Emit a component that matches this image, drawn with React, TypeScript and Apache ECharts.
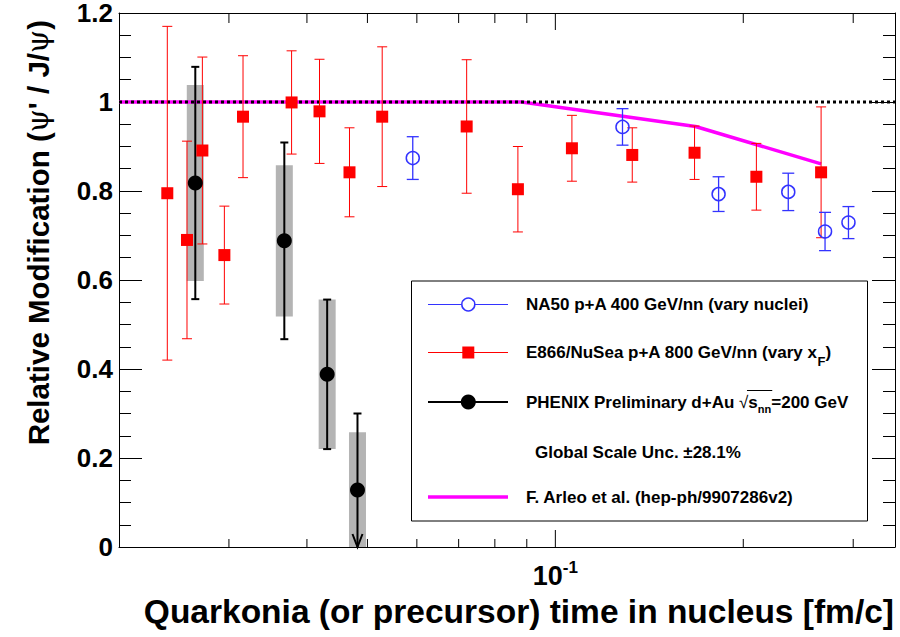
import React, { useEffect, useRef } from 'react';
import * as echarts from 'echarts';

const FONT = '"Liberation Sans", Arial, Helvetica, sans-serif';

// axis ranges and ticks
const xMin = 0.02;
const xMax = 0.35;
const xMinorTicks = [0.03, 0.04, 0.05, 0.06, 0.07, 0.08, 0.09, 0.2, 0.3];
const xMajorTicks = [0.1];
const xMajorLabels = ['10'];
const xMajorExps = ['-1'];
const yMin = 0;
const yMax = 1.2;
const yStep = 0.2;

// NA50 p+A 400 GeV/nn
const na50T = [0.0591, 0.1281, 0.1826, 0.2361, 0.2704, 0.2948];
const na50V = [0.874, 0.944, 0.793, 0.798, 0.709, 0.729];
const na50E = [0.048, 0.041, 0.039, 0.042, 0.043, 0.036];

// E866/NuSea p+A 800 GeV/nn
const e866T = [0.0239, 0.0257, 0.0272, 0.0295, 0.0316, 0.0378, 0.0419, 0.0468, 0.0528, 0.0721, 0.0871, 0.1063, 0.1328, 0.1671, 0.2099, 0.2665];
const e866V = [0.795, 0.69, 0.891, 0.656, 0.967, 0.999, 0.979, 0.842, 0.967, 0.945, 0.804, 0.896, 0.881, 0.886, 0.832, 0.842];
const e866E = [0.375, 0.222, 0.21, 0.11, 0.137, 0.116, 0.117, 0.1, 0.157, 0.15, 0.096, 0.074, 0.061, 0.06, 0.075, 0.147];

// PHENIX preliminary d+Au
const phxT = [0.0265, 0.0368, 0.0431, 0.0482];
const phxV = [0.818, 0.688, 0.388, 0.128];
const phxStat = [0.261, 0.221, 0.168, 0.172];
const phxSys = [0.22, 0.17, 0.168, 0.13];

// F. Arleo et al. curve
const arleoT = [0.02, 0.0883, 0.1677, 0.2665];
const arleoV = [1.0, 1.0, 0.945, 0.861];

// reference line
const refLevel = 1.0;

function measure(text: string, font: string): number {
  try {
    const c = document.createElement('canvas').getContext('2d');
    if (!c) return text.length * 9;
    c.font = font;
    return c.measureText(text).width;
  } catch (e) {
    return text.length * 9;
  }
}

function errRender(color: string, lw: number, capHalf: number) {
  return (params: any, api: any) => {
    const t = api.value(0);
    const v = api.value(1);
    const e = api.value(2);
    const lo = v - e;
    const hi = v + e;
    const top = api.coord([t, hi]);
    const bot = api.coord([t, Math.max(lo, 0)]);
    const st = { stroke: color, lineWidth: lw, fill: 'none' };
    const children: any[] = [
      { type: 'line', shape: { x1: top[0], y1: top[1], x2: bot[0], y2: bot[1] }, style: st },
      { type: 'line', shape: { x1: top[0] - capHalf, y1: top[1], x2: top[0] + capHalf, y2: top[1] }, style: st },
    ];
    if (lo >= 0) {
      children.push({ type: 'line', shape: { x1: bot[0] - capHalf, y1: bot[1], x2: bot[0] + capHalf, y2: bot[1] }, style: st });
    } else {
      children.push({
        type: 'polyline',
        shape: { points: [[bot[0] - 5, bot[1] - 13], [bot[0], bot[1]], [bot[0] + 5, bot[1] - 13]] },
        style: st,
      });
    }
    return { type: 'group', children };
  };
}

export default function App() {
  const ref = useRef<HTMLDivElement>(null);
  useEffect(() => {
    const chart = echarts.init(ref.current!, null, { renderer: 'svg' });

    const yAxisBase: any = {
      type: 'value',
      min: yMin,
      max: yMax,
      interval: yStep,
      axisLine: { show: true, onZero: false, lineStyle: { color: '#000', width: 1 } },
      axisTick: { show: true, inside: true, length: 23, lineStyle: { color: '#000', width: 1 } },
      minorTick: { show: true, splitNumber: 4, length: 12, lineStyle: { color: '#000', width: 1 } },
      splitLine: { show: false },
    };

    const tickData = [
      ...xMinorTicks.map((t) => [t, 0, 0]),
      ...xMajorTicks.map((t) => [t, 0, 1]),
    ];

    // overline of the square-root sign in the PHENIX legend entry
    const legX = 526;
    const phPrefix = measure('PHENIX Preliminary d+Au ', `bold 17px ${FONT}`);
    const rootW = measure('√', `17px ${FONT}`);
    const sW = measure('s', `bold 17px ${FONT}`);
    const nnW = measure('nn', `bold 11px ${FONT}`);
    const olX1 = legX + phPrefix + rootW * 0.85;
    const olX2 = legX + phPrefix + rootW + sW + nnW + 1;

    const option: any = {
      animation: false,
      backgroundColor: '#fff',
      grid: { left: 119, right: 5, top: 13, bottom: 90, containLabel: false, outerBoundsMode: 'none' },
      xAxis: [
        {
          type: 'log',
          logBase: 10,
          min: xMin,
          max: xMax,
          position: 'bottom',
          axisLine: { show: true, onZero: false, lineStyle: { color: '#000', width: 1 } },
          axisTick: { show: false },
          minorTick: { show: false },
          splitLine: { show: false },
          axisLabel: {
            margin: 12,
            formatter: (v: number) => {
              const i = xMajorTicks.findIndex((m) => Math.abs(Math.log10(v) - Math.log10(m)) < 1e-6);
              return i >= 0 ? `{m|${xMajorLabels[i]}}{s|${xMajorExps[i]}}` : '';
            },
            rich: {
              m: { fontSize: 27, fontWeight: 'bold', fontFamily: FONT, color: '#000', lineHeight: 30, verticalAlign: 'bottom' },
              s: { fontSize: 17, fontWeight: 'bold', fontFamily: FONT, color: '#000', lineHeight: 16, verticalAlign: 'top' },
            },
          },
        },
        {
          type: 'log',
          logBase: 10,
          min: xMin,
          max: xMax,
          position: 'top',
          axisLine: { show: true, onZero: false, lineStyle: { color: '#000', width: 1 } },
          axisTick: { show: false },
          axisLabel: { show: false },
          splitLine: { show: false },
        },
      ],
      yAxis: [
        {
          ...yAxisBase,
          position: 'left',
          axisLabel: {
            margin: 6,
            fontSize: 26,
            lineHeight: 22,
            fontWeight: 'bold',
            fontFamily: FONT,
            color: '#000',
            formatter: (v: number) => String(Math.round(v * 10) / 10),
          },
        },
        { ...yAxisBase, position: 'right', axisLabel: { show: false } },
      ],
      series: [
        {
          type: 'custom',
          name: 'xticks',
          silent: true,
          clip: false,
          z: 1,
          data: tickData,
          encode: { x: 0, y: 1 },
          renderItem: (params: any, api: any) => {
            const t = api.value(0);
            const major = api.value(2) === 1;
            const b = api.coord([t, yMin]);
            const tp = api.coord([t, yMax]);
            const lt = major ? 17 : 10;
            const lb = major ? 17 : 8;
            const st = { stroke: '#000', lineWidth: 1 };
            return {
              type: 'group',
              children: [
                { type: 'line', shape: { x1: b[0], y1: b[1], x2: b[0], y2: b[1] - lb }, style: st },
                { type: 'line', shape: { x1: tp[0], y1: tp[1], x2: tp[0], y2: tp[1] + lt }, style: st },
              ],
            };
          },
        },
        {
          type: 'custom',
          name: 'phenixSys',
          silent: true,
          z: 2,
          data: phxT.map((t, i) => [t, phxV[i], phxSys[i]]),
          encode: { x: 0, y: 1 },
          renderItem: (params: any, api: any) => {
            const t = api.value(0);
            const v = api.value(1);
            const s = api.value(2);
            const top = api.coord([t, v + s]);
            const bot = api.coord([t, Math.max(v - s, 0)]);
            return {
              type: 'rect',
              shape: { x: top[0] - 8.5, y: top[1], width: 17, height: bot[1] - top[1] },
              style: { fill: '#b4b4b4' },
            };
          },
        },
        {
          type: 'line',
          name: 'arleo',
          silent: true,
          z: 3,
          symbol: 'none',
          data: arleoT.map((t, i) => [t, arleoV[i]]),
          lineStyle: { color: '#ff00ff', width: 3.5 },
        },
        {
          type: 'line',
          name: 'ref',
          silent: true,
          z: 4,
          symbol: 'none',
          data: [[xMin, refLevel], [xMax, refLevel]],
          lineStyle: { color: '#000', width: 3, type: [3, 3] },
        },
        {
          type: 'custom',
          name: 'e866Err',
          silent: true,
          z: 5,
          data: e866T.map((t, i) => [t, e866V[i], e866E[i]]),
          encode: { x: 0, y: 1 },
          renderItem: errRender('#ff0000', 1, 5),
        },
        {
          type: 'custom',
          name: 'na50Err',
          silent: true,
          z: 5,
          data: na50T.map((t, i) => [t, na50V[i], na50E[i]]),
          encode: { x: 0, y: 1 },
          renderItem: errRender('#3333ff', 1.3, 6),
        },
        {
          type: 'custom',
          name: 'phxErr',
          silent: true,
          z: 5,
          data: phxT.map((t, i) => [t, phxV[i], phxStat[i]]),
          encode: { x: 0, y: 1 },
          renderItem: errRender('#000000', 2, 4),
        },
        {
          type: 'scatter',
          name: 'E866',
          silent: true,
          z: 6,
          symbol: 'rect',
          symbolSize: 12,
          data: e866T.map((t, i) => [t, e866V[i]]),
          itemStyle: { color: '#ff0000', opacity: 1 },
        },
        {
          type: 'scatter',
          name: 'NA50',
          silent: true,
          z: 6,
          symbol: 'circle',
          symbolSize: 13,
          data: na50T.map((t, i) => [t, na50V[i]]),
          itemStyle: { color: 'rgba(255,255,255,0)', borderColor: '#3333ff', borderWidth: 1.5, opacity: 1 },
        },
        {
          type: 'scatter',
          name: 'PHENIX',
          silent: true,
          z: 6,
          symbol: 'circle',
          symbolSize: 15,
          data: phxT.map((t, i) => [t, phxV[i]]),
          itemStyle: { color: '#000', opacity: 1 },
        },
      ],
      graphic: [
        // axis titles
        {
          type: 'text',
          x: 894,
          y: 611,
          z: 100,
          style: {
            text: 'Quarkonia (or precursor) time in nucleus [fm/c]',
            font: `bold 33.5px ${FONT}`,
            fill: '#000',
            textAlign: 'right',
            textVerticalAlign: 'middle',
          },
        },
        {
          type: 'text',
          x: 38,
          y: 20,
          rotation: Math.PI / 2,
          z: 100,
          style: {
            text: "{b|Relative Modification (}{p|ψ}{b|' / J/}{p|ψ}{b|)}",
            textAlign: 'right',
            textVerticalAlign: 'middle',
            rich: {
              b: { fontSize: 29.5, fontWeight: 'bold', fontFamily: FONT, fill: '#000' },
              p: { fontSize: 29.5, fontWeight: 'normal', fontFamily: '"DejaVu Serif", serif', fill: '#000' },
            },
          },
        },
        // legend box
        {
          type: 'rect',
          z: 100,
          shape: { x: 411.5, y: 281, width: 456, height: 240 },
          style: { fill: '#fff', stroke: '#000', lineWidth: 1 },
        },
        // NA50 entry
        { type: 'line', z: 101, shape: { x1: 428, y1: 304.5, x2: 508, y2: 304.5 }, style: { stroke: '#3333ff', lineWidth: 1 } },
        { type: 'circle', z: 102, shape: { cx: 468.3, cy: 304.5, r: 6.5 }, style: { fill: '#fff', stroke: '#3333ff', lineWidth: 1.5 } },
        {
          type: 'text', z: 102, x: legX, y: 304.5,
          style: { text: 'NA50 p+A 400 GeV/nn (vary nuclei)', font: `bold 17px ${FONT}`, fill: '#000', textAlign: 'left', textVerticalAlign: 'middle' },
        },
        // E866 entry
        { type: 'line', z: 101, shape: { x1: 428, y1: 352.5, x2: 508, y2: 352.5 }, style: { stroke: '#ff0000', lineWidth: 1 } },
        { type: 'rect', z: 102, shape: { x: 462.3, y: 346.5, width: 12, height: 12 }, style: { fill: '#ff0000' } },
        {
          type: 'text', z: 102, x: legX, y: 352.5,
          style: {
            text: '{t|E866/NuSea p+A 800 GeV/nn (vary x}{f|F}{t|)}',
            textAlign: 'left',
            textVerticalAlign: 'middle',
            rich: {
              t: { fontSize: 17, fontWeight: 'bold', fontFamily: FONT, fill: '#000', lineHeight: 30, verticalAlign: 'middle' },
              f: { fontSize: 13, fontWeight: 'bold', fontFamily: FONT, fill: '#000', lineHeight: 12, verticalAlign: 'bottom' },
            },
          },
        },
        // PHENIX entry
        { type: 'line', z: 101, shape: { x1: 428, y1: 402, x2: 508, y2: 402 }, style: { stroke: '#000', lineWidth: 2 } },
        { type: 'circle', z: 102, shape: { cx: 468.3, cy: 402, r: 7.5 }, style: { fill: '#000' } },
        {
          type: 'text', z: 102, x: legX, y: 402,
          style: {
            text: '{t|PHENIX Preliminary d+Au }{r|√}{t|s}{n|nn}{t|=200 GeV}',
            textAlign: 'left',
            textVerticalAlign: 'middle',
            rich: {
              t: { fontSize: 17, fontWeight: 'bold', fontFamily: FONT, fill: '#000', lineHeight: 24, verticalAlign: 'middle' },
              r: { fontSize: 17, fontWeight: 'normal', fontFamily: FONT, fill: '#000', lineHeight: 24, verticalAlign: 'middle' },
              n: { fontSize: 11, fontWeight: 'bold', fontFamily: FONT, fill: '#000', lineHeight: 12, verticalAlign: 'bottom' },
            },
          },
        },
        { type: 'line', z: 102, shape: { x1: olX1, y1: 390.5, x2: olX2, y2: 390.5 }, style: { stroke: '#000', lineWidth: 1 } },
        {
          type: 'text', z: 102, x: 535, y: 452,
          style: { text: 'Global Scale Unc. ±28.1%', font: `bold 17px ${FONT}`, fill: '#000', textAlign: 'left', textVerticalAlign: 'middle' },
        },
        // Arleo entry
        { type: 'line', z: 101, shape: { x1: 428, y1: 497, x2: 508, y2: 497 }, style: { stroke: '#ff00ff', lineWidth: 3.5 } },
        {
          type: 'text', z: 102, x: legX, y: 497,
          style: { text: 'F. Arleo et al. (hep-ph/9907286v2)', font: `bold 17px ${FONT}`, fill: '#000', textAlign: 'left', textVerticalAlign: 'middle' },
        },
      ],
    };

    chart.setOption(option);
    return () => chart.dispose();
  }, []);

  return (
    <div
      ref={ref}
      style={{ position: 'fixed', left: 0, top: 0, width: 900, height: 637, background: '#fff' }}
    />
  );
}
